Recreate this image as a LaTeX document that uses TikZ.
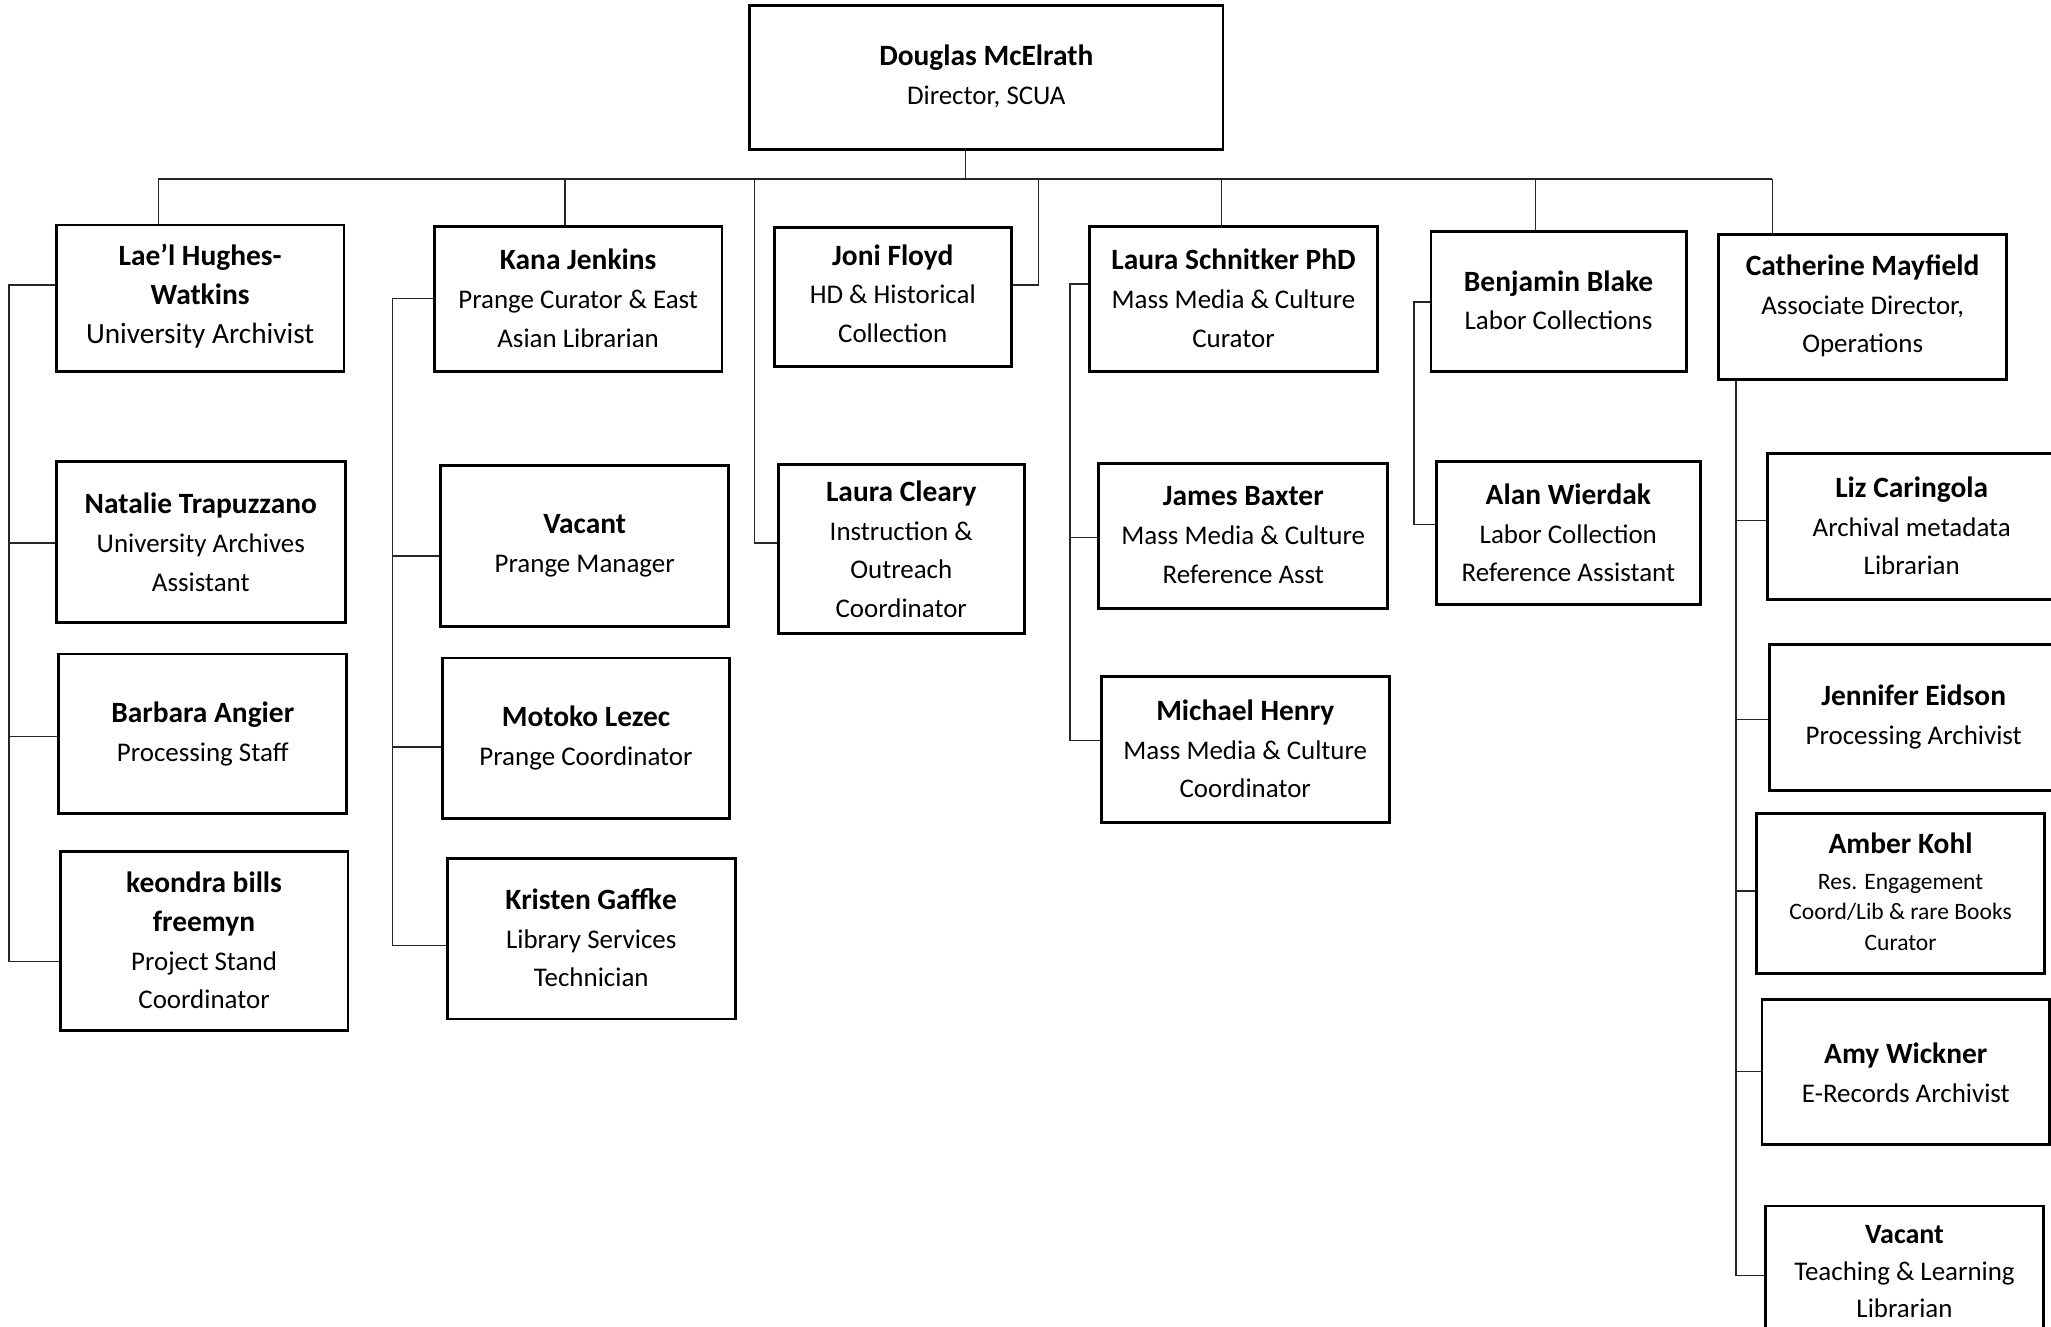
\documentclass[tikz,border=0pt]{standalone}
\usepackage{fontspec}
\setmainfont{Carlito}
\newcommand\nm[1]{{\fontsize{11.25}{14.8}\selectfont\bfseries #1}}
\newcommand\bigrole[1]{{\fontsize{11.2}{14.8}\selectfont #1}}
\tikzset{
  box/.style 2 args={draw, line width=1.1pt, inner sep=0pt, minimum width=#1*0.5pt, minimum height=#2*0.5pt},
  txt/.style={align=center, inner sep=0pt, font=\fontsize{10.3}{14.8}\selectfont},
  smalltxt/.style={align=center, inner sep=0pt, font=\fontsize{9}{11.75}\selectfont},
  midtxt/.style={align=center, inner sep=0pt, font=\fontsize{10.3}{14.2}\selectfont},
  conn/.style={line width=0.55pt, draw=black!85}
}
\begin{document}
\begin{tikzpicture}[x=0.5pt,y=-0.5pt]
\useasboundingbox (0,0) rectangle (1568,1014);
\fill[white] (0,0) rectangle (1568,1014);
\clip (0,0) rectangle (1568,1014);

% top
\node[box={362}{110}] (dir) at (754,59) {};
\node[txt] (dirT) at (754,58.5) {\nm{Douglas McElrath}\\Director, SCUA};

% first row
\node[box={220}{112}] (L1) at (153,228) {};
\node[txt] (L1t) at (153,226.5) {\nm{Lae’l Hughes-}\\\nm{Watkins}\\\bigrole{University Archivist}};
\node[box={220}{111}] (K1) at (442,228.5) {};
\node[txt] (K1t) at (442,228) {\nm{Kana Jenkins}\\Prange Curator \& East\\Asian Librarian};
\node[box={181}{106}] (J1) at (682.5,227) {};
\node[txt] (J1t) at (682.5,224.5) {\nm{Joni Floyd}\\HD \& Historical\\Collection};
\node[box={220}{111}] (S1) at (943,228.5) {};
\node[txt] (S1t) at (943,228) {\nm{Laura Schnitker PhD}\\Mass Media \& Culture\\Curator};
\node[box={195}{107}] (B1) at (1191.5,230.5) {};
\node[txt] (B1t) at (1191.5,229.5) {\nm{Benjamin Blake}\\Labor Collections};
\node[box={220}{111}] (C1) at (1424,234.5) {};
\node[txt] (C1t) at (1424,234) {\nm{Catherine Mayfield}\\Associate Director,\\Operations};

% Lae'l group
\node[box={221}{123}] (L2) at (153.5,414.5) {};
\node[txt] (L2t) at (153.5,414.5) {\nm{Natalie Trapuzzano}\\University Archives\\Assistant};
\node[box={220}{122}] (L3) at (155,561) {};
\node[txt] (L3t) at (155,561) {\nm{Barbara Angier}\\Processing Staff};
\node[box={220}{137}] (L4) at (156,719.5) {};
\node[txt] (L4t) at (156,719) {\nm{keondra bills}\\\nm{freemyn}\\Project Stand\\Coordinator};

% Kana group
\node[box={220}{123}] (K2) at (447,417.5) {};
\node[txt] (K2t) at (447,417) {\nm{Vacant}\\Prange Manager};
\node[box={220}{123}] (K3) at (448,564.5) {};
\node[txt] (K3t) at (448,564) {\nm{Motoko Lezec}\\Prange Coordinator};
\node[box={220}{123}] (K4) at (452,717.5) {};
\node[txt] (K4t) at (452,717) {\nm{Kristen Gaffke}\\Library Services\\Technician};

% Joni / Cleary
\node[box={188}{129}] (J2) at (689,419.5) {};
\node[txt] (J2t) at (689,420) {\nm{Laura Cleary}\\Instruction \&\\Outreach\\Coordinator};

% Schnitker group
\node[box={221}{111}] (S2) at (950.5,409.5) {};
\node[txt] (S2t) at (950.5,409) {\nm{James Baxter}\\Mass Media \& Culture\\Reference Asst};
\node[box={220}{112}] (S3) at (952,573) {};
\node[txt] (S3t) at (952,572.5) {\nm{Michael Henry}\\Mass Media \& Culture\\Coordinator};

% Blake group
\node[box={202}{109}] (B2) at (1199,407.5) {};
\node[txt] (B2t) at (1199,407.5) {\nm{Alan Wierdak}\\Labor Collection\\Reference Assistant};

% Mayfield group
\node[box={221}{111}] (C2) at (1461.5,402.5) {};
\node[txt] (C2t) at (1461.5,402) {\nm{Liz Caringola}\\Archival metadata\\Librarian};
\node[box={221}{111}] (C3) at (1463.5,548.5) {};
\node[txt] (C3t) at (1463,548) {\nm{Jennifer Eidson}\\Processing Archivist};
\node[box={220}{122}] (C4) at (1453,683) {};
\node[txt] (C4n) at (1453,645) {\nm{Amber Kohl}};
\node[smalltxt] (C4r) at (1453,697.5) {Res. Engagement\\Coord/Lib \& rare Books\\Curator};
\node[box={220}{111}] (C5) at (1457,819.5) {};
\node[txt] (C5t) at (1457,820) {\nm{Amy Wickner}\\E-Records Archivist};
\node[box={212}{111}] (C6) at (1456,977.5) {};
\node[midtxt] (C6t) at (1456,972) {{\fontsize{10.7}{14.2}\selectfont\bfseries Vacant}\\Teaching \& Learning\\Librarian};

% bus
\coordinate (busL) at (121,137);
\coordinate (busR) at (1355,137);
\coordinate (b0) at (738,137);
\coordinate (b1) at (121,137);
\coordinate (b2) at (432,137);
\coordinate (b3) at (577,137);
\coordinate (b4) at (794,137);
\coordinate (b5) at (934,137);
\coordinate (b6) at (1174,137);
\coordinate (b7) at (1355,137);
\draw[conn] (busL) -- (busR);
\draw[conn] (b0) -- (b0 |- dir.south);
\draw[conn] (b1) -- (b1 |- L1.north);
\draw[conn] (b2) -- (b2 |- K1.north);
\draw[conn] (b3) |- (J2.west |- 0,415);
\draw[conn] (b4) |- (J1.east |- 0,218);
\draw[conn] (b5) -- (b5 |- S1.north);
\draw[conn] (b6) -- (b6 |- B1.north);
\draw[conn] (b7) -- (b7 |- C1.north);

% Lae'l spine
\draw[conn] (L1.west |- 0,218) -| (7,735) -- (L4.west |- 0,735);
\draw[conn] (7,415) -- (L2.west |- 0,415);
\draw[conn] (7,563) -- (L3.west |- 0,563);

% Kana spine
\draw[conn] (K1.west |- 0,228) -| (300,723) -- (K4.west |- 0,723);
\draw[conn] (300,425) -- (K2.west |- 0,425);
\draw[conn] (300,571) -- (K3.west |- 0,571);

% Schnitker spine
\draw[conn] (S1.west |- 0,217) -| (818,566) -- (S3.west |- 0,566);
\draw[conn] (818,411) -- (S2.west |- 0,411);

% Blake spine
\draw[conn] (B1.west |- 0,231) -| (1081,401) -- (B2.west |- 0,401);

% Mayfield spine
\draw[conn] (C1.south -| 1327,0) -- (1327,975) -- (C6.west |- 0,975);
\draw[conn] (1327,398) -- (C2.west |- 0,398);
\draw[conn] (1327,550) -- (C3.west |- 0,550);
\draw[conn] (1327,681) -- (C4.west |- 0,681);
\draw[conn] (1327,819) -- (C5.west |- 0,819);
\end{tikzpicture}
\end{document}
